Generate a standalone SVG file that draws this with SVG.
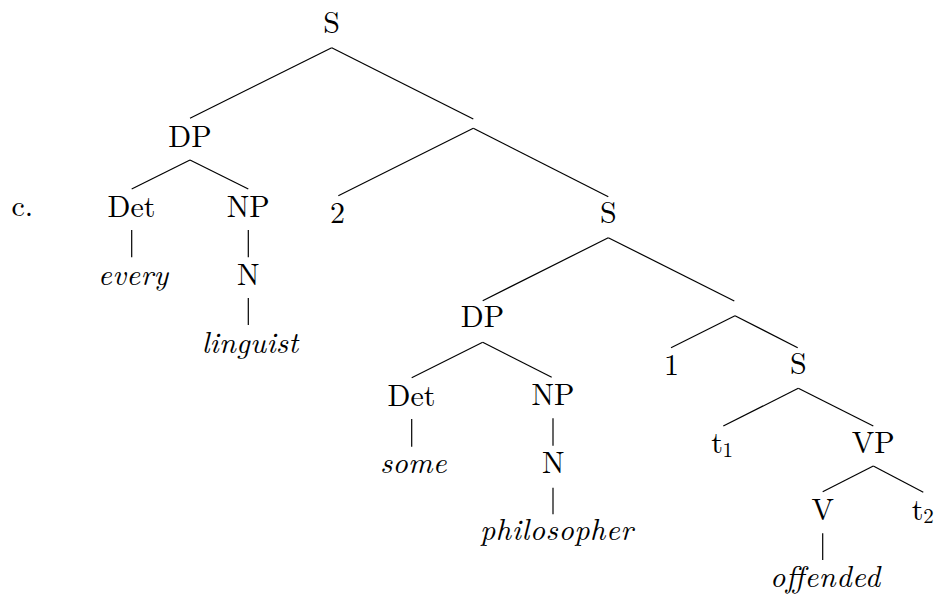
<svg xmlns="http://www.w3.org/2000/svg" width="940" height="597" viewBox="0 0 940 597">
<style>
text{font-size:30px;fill:#000;text-anchor:middle}
.it{font-style:italic}
.sub{font-size:21px}
#edges line{stroke:#000;stroke-width:1.2;stroke-linecap:butt}
</style>
<rect width="940" height="597" fill="#fff"/>
<g font-family="Latin Modern Roman, Liberation Serif, serif">
<text x="11.5" y="216" style="text-anchor:start">c.</text>
<g id="edges">
<line x1="331.7" y1="47.7" x2="190" y2="118.3"/>
<line x1="331.7" y1="47.7" x2="473.3" y2="119"/>
<line x1="473.3" y1="128.3" x2="338.3" y2="195.7"/>
<line x1="473.3" y1="128.3" x2="608.3" y2="196.7"/>
<line x1="190" y1="160" x2="131.7" y2="189"/>
<line x1="190" y1="160" x2="248.3" y2="189"/>
<line x1="131.7" y1="230" x2="131.7" y2="257.3"/>
<line x1="248.3" y1="230" x2="248.3" y2="257.3"/>
<line x1="248.3" y1="298" x2="248.3" y2="325"/>
<line x1="608.3" y1="237.7" x2="482.7" y2="300.7"/>
<line x1="608.3" y1="237.7" x2="734.3" y2="301"/>
<line x1="735" y1="315.7" x2="671" y2="347.7"/>
<line x1="735" y1="315.7" x2="797.7" y2="347.7"/>
<line x1="482.7" y1="342.3" x2="411.7" y2="377.7"/>
<line x1="482.7" y1="342.3" x2="551.7" y2="377.3"/>
<line x1="411.7" y1="419" x2="411.7" y2="446.7"/>
<line x1="553" y1="418.3" x2="553" y2="445.7"/>
<line x1="553" y1="487.7" x2="553" y2="514.3"/>
<line x1="798.3" y1="388.3" x2="723.3" y2="426"/>
<line x1="798.3" y1="388.3" x2="873.3" y2="426"/>
<line x1="873.3" y1="466" x2="822.7" y2="491.7"/>
<line x1="873.3" y1="466" x2="923.3" y2="492.3"/>
<line x1="822.7" y1="533.3" x2="822.7" y2="560"/>
</g>
<g id="n-S1"><text x="331.7" y="33">S</text></g>
<g id="n-DP1"><text x="190" y="146.7">DP</text></g>
<g id="n-Det1"><text x="131.5" y="216.7">Det</text></g>
<g id="n-NP1"><text x="248.3" y="216.7">NP</text></g>
<g id="n-every"><text class="it" x="133" y="285" textLength="70" lengthAdjust="spacing">every</text></g>
<g id="n-N1"><text x="248.3" y="285">N</text></g>
<g id="n-linguist"><text class="it" x="250" y="353.3" textLength="96.6" lengthAdjust="spacing">linguist</text></g>
<g id="n-2"><text x="337.5" y="223.3">2</text></g>
<g id="n-S2"><text x="608.3" y="223.3">S</text></g>
<g id="n-DP2"><text x="482.5" y="326.7">DP</text></g>
<g id="n-Det2"><text x="411.5" y="405.5">Det</text></g>
<g id="n-NP2"><text x="553" y="405">NP</text></g>
<g id="n-some"><text class="it" x="413.3" y="473.3" textLength="66.7" lengthAdjust="spacing">some</text></g>
<g id="n-N2"><text x="553.3" y="473.3">N</text></g>
<g id="n-philosopher"><text class="it" x="556.5" y="540" textLength="153" lengthAdjust="spacing">philosopher</text></g>
<g id="n-1"><text x="671.5" y="375">1</text></g>
<g id="n-S3"><text x="798.3" y="374">S</text></g>
<g id="n-t1"><text y="453.3"><tspan x="717.2">t</tspan><tspan class="sub" x="727.8" dy="3.4">1</tspan></text></g>
<g id="n-VP"><text x="873.3" y="453.3">VP</text></g>
<g id="n-V"><text x="822.7" y="520">V</text></g>
<g id="n-t2"><text y="520"><tspan x="917.5">t</tspan><tspan class="sub" x="928.4" dy="3.3">2</tspan></text></g>
<g id="n-offended"><text class="it" x="825" y="586.7" textLength="110" lengthAdjust="spacing">offended</text></g>
</g>
</svg>
